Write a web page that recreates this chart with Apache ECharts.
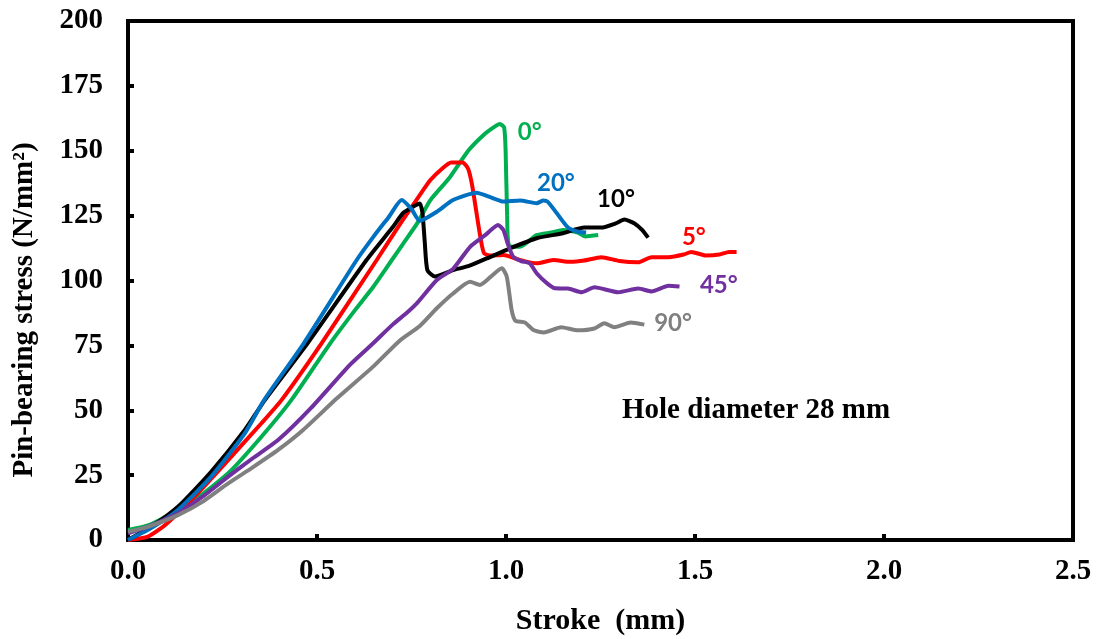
<!DOCTYPE html>
<html>
<head>
<meta charset="utf-8">
<title>Pin-bearing stress vs stroke</title>
<script src="https://cdn.jsdelivr.net/npm/echarts@6/dist/echarts.min.js"></script>
<style>
  html, body { margin: 0; padding: 0; background: #fff; }
  #chart { width: 1101px; height: 639px; }
</style>
</head>
<body>
<div id="chart"></div>
<script>
// stroke (mm) / stress (N/mm2)
var stroke0 = [0, 0.05, 0.1, 0.176, 0.265, 0.353, 0.432, 0.535, 0.6, 0.649, 0.698, 0.729, 0.765, 0.8, 0.85, 0.9, 0.94, 0.97, 0.984, 0.995, 0.999, 1.003, 1.008, 1.037, 1.081, 1.12, 1.151, 1.19, 1.21, 1.244];
var stress0 = [3.9, 5.5, 9, 15.4, 25.7, 39.8, 53.9, 75.8, 88.5, 97.6, 107.9, 114.4, 122, 131, 139.5, 150, 156, 159.3, 160.3, 159, 150, 125, 113.5, 113, 117.5, 118.5, 119.5, 118.5, 117, 117.5];

var stroke5 = [0, 0.053, 0.1, 0.176, 0.265, 0.353, 0.406, 0.512, 0.658, 0.72, 0.77, 0.8, 0.83, 0.855, 0.885, 0.9, 0.91, 0.922, 0.933, 0.942, 0.96, 0.993, 1.037, 1.081, 1.125, 1.17, 1.207, 1.252, 1.3, 1.35, 1.385, 1.43, 1.47, 1.49, 1.53, 1.565, 1.59, 1.61];
var stress5 = [0, 1.3, 6, 16.7, 30.8, 45, 53.9, 75.8, 107.9, 121.8, 132.5, 138.7, 143, 145.5, 145.5, 143, 137, 126, 116, 110.5, 109.6, 109.8, 107.9, 106.6, 107.9, 107.2, 107.7, 109, 107.5, 107, 109, 109, 110, 111, 109.6, 110, 111, 111];

var stroke10 = [0, 0.06, 0.132, 0.22, 0.309, 0.362, 0.475, 0.631, 0.7, 0.728, 0.755, 0.772, 0.779, 0.785, 0.792, 0.812, 0.86, 0.9, 0.949, 1.011, 1.081, 1.151, 1.207, 1.252, 1.29, 1.313, 1.34, 1.36, 1.376];
var stress10 = [0, 5, 12.8, 26.3, 42.4, 53.9, 75.8, 107.9, 120.5, 126, 128.5, 129.7, 126, 115, 104, 101.5, 104, 105.5, 108.5, 112.4, 116.3, 118.2, 120.4, 120.4, 122, 123.5, 122, 119.5, 116.5];

var stroke20 = [0, 0.06, 0.132, 0.22, 0.309, 0.36, 0.465, 0.605, 0.65, 0.69, 0.724, 0.75, 0.772, 0.817, 0.86, 0.922, 0.96, 0.993, 1.037, 1.081, 1.099, 1.11, 1.134, 1.164, 1.19, 1.212];
var stress20 = [0, 4.5, 11.6, 24.4, 41.1, 53.9, 75.8, 107.9, 117, 124.5, 131, 127.5, 123, 126.5, 131, 133.8, 132, 130.4, 130.8, 129.8, 130.8, 130.4, 126, 120.4, 118.8, 118.5];

var stroke45 = [0, 0.05, 0.132, 0.2, 0.265, 0.33, 0.397, 0.485, 0.587, 0.65, 0.7, 0.737, 0.764, 0.817, 0.86, 0.905, 0.945, 0.979, 0.993, 1.005, 1.019, 1.04, 1.063, 1.081, 1.108, 1.13, 1.164, 1.2, 1.234, 1.297, 1.35, 1.385, 1.43, 1.459];
var stress45 = [2.6, 5, 10.3, 17, 24.4, 31.5, 38.5, 51, 67.5, 76, 83, 87.5, 91.2, 100.2, 104.5, 113, 117.5, 121.4, 119.5, 114, 109.2, 107.5, 106.6, 102.8, 99, 97, 96.9, 95.5, 97.4, 95.5, 96.9, 95.8, 98, 97.7];

var stroke90 = [0, 0.05, 0.132, 0.2, 0.265, 0.33, 0.397, 0.464, 0.552, 0.65, 0.72, 0.772, 0.817, 0.86, 0.905, 0.931, 0.96, 0.989, 1.002, 1.015, 1.025, 1.05, 1.074, 1.1, 1.146, 1.19, 1.234, 1.26, 1.287, 1.33, 1.366];
var stress90 = [3.2, 5, 9.6, 15, 21.8, 28, 34.7, 42.5, 54.5, 67, 77, 82.5, 89.3, 95, 99.5, 98.3, 101.5, 104.7, 101.5, 88.6, 84.5, 83.8, 80.8, 80, 82, 80.8, 81.5, 83.5, 82, 83.8, 83];

// curve labels (angle) and where they sit, in data units
var angles = ['0°', '5°', '10°', '20°', '45°', '90°'];
var labelX = [1.063, 1.497, 1.291, 1.132, 1.563, 1.442];
var labelY = [157.2, 116.8, 131.3, 137.5, 98.3, 83.6];

var xTicks = [0, 0.5, 1.0, 1.5, 2.0, 2.5];
var yTicks = [0, 25, 50, 75, 100, 125, 150, 175, 200];

var colors = ['#00b050', '#ff0000', '#000000', '#0070c0', '#7030a0', '#808080'];
var strokes = [stroke0, stroke5, stroke10, stroke20, stroke45, stroke90];
var stresses = [stress0, stress5, stress10, stress20, stress45, stress90];

var serif = '"Liberation Serif", "Times New Roman", serif';

function zip(a, b) {
    var out = [];
    for (var i = 0; i < a.length; i++) out.push([a[i], b[i]]);
    return out;
}

var series = [];
for (var i = 0; i < angles.length; i++) {
    series.push({
        name: angles[i],
        type: 'line',
        data: zip(strokes[i], stresses[i]),
        showSymbol: false,
        smooth: 0.2,
        lineStyle: { color: colors[i], width: 4 },
        itemStyle: { color: colors[i] },
        markPoint: {
            symbol: 'circle',
            symbolSize: 1,
            itemStyle: { color: 'rgba(0,0,0,0)' },
            label: {
                show: true,
                position: 'inside',
                formatter: angles[i],
                color: colors[i],
                fontFamily: 'Lato, "Open Sans", sans-serif',
                fontWeight: 'bold',
                fontSize: 24
            },
            data: [{ coord: [labelX[i], labelY[i]] }]
        }
    });
}

var chart = echarts.init(document.getElementById('chart'));
chart.setOption({
    animation: false,
    backgroundColor: '#fff',
    grid: {
        left: 128, right: 28, top: 21, bottom: 99,
        show: true, borderColor: '#000', borderWidth: 4,
        outerBoundsMode: 'none'
    },
    xAxis: {
        type: 'value',
        min: xTicks[0],
        max: xTicks[xTicks.length - 1],
        interval: 0.5,
        name: 'Stroke  (mm)',
        nameLocation: 'middle',
        nameGap: 66,
        nameTextStyle: { fontFamily: serif, fontWeight: 'bold', fontSize: 30, color: '#000' },
        axisLine: { lineStyle: { color: '#000', width: 4 } },
        axisTick: { inside: true, length: 6, lineStyle: { color: '#000', width: 4 } },
        axisLabel: {
            margin: 17,
            fontFamily: serif, fontWeight: 'bold', fontSize: 29, color: '#000',
            formatter: function (v) { return v.toFixed(1); }
        },
        splitLine: { show: false }
    },
    yAxis: {
        type: 'value',
        min: yTicks[0],
        max: yTicks[yTicks.length - 1],
        interval: 25,
        axisLine: { lineStyle: { color: '#000', width: 4 } },
        axisTick: { inside: true, length: 6, lineStyle: { color: '#000', width: 4 } },
        axisLabel: {
            margin: 25,
            fontFamily: serif, fontWeight: 'bold', fontSize: 29, color: '#000'
        },
        splitLine: { show: false }
    },
    graphic: [{
        type: 'text',
        x: 25,
        y: 310,
        rotation: Math.PI / 2,
        style: {
            text: 'Pin-bearing stress (N/mm²)',
            fill: '#000',
            font: 'bold 29px ' + serif,
            align: 'center',
            verticalAlign: 'middle'
        }
    }, {
        type: 'text',
        left: 622,
        top: 396,
        style: {
            text: 'Hole diameter 28 mm',
            fill: '#000',
            font: 'bold 29px ' + serif
        }
    }],
    series: series
});
</script>
</body>
</html>
